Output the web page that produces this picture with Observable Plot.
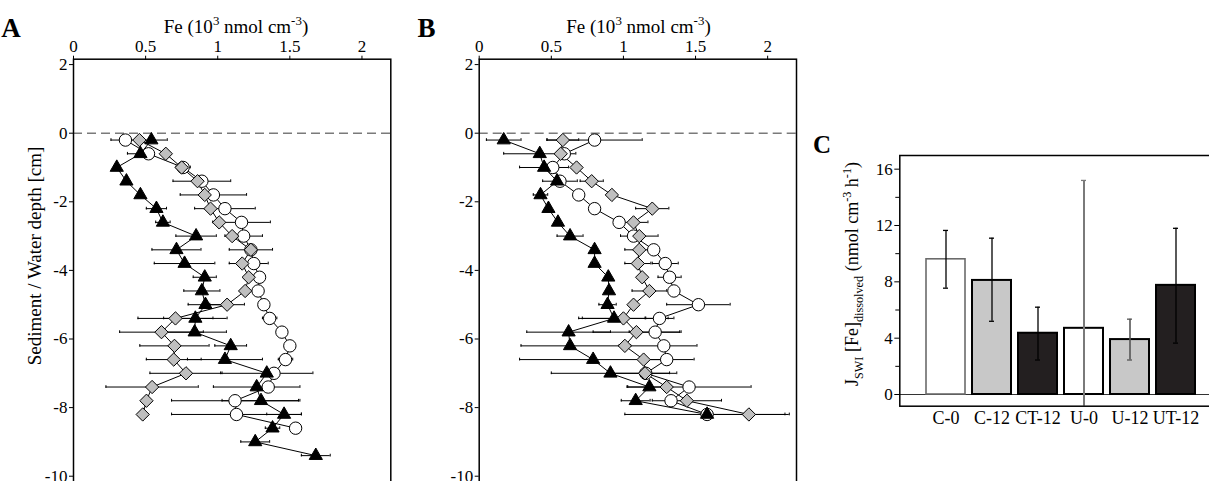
<!DOCTYPE html>
<html><head><meta charset="utf-8">
<script src="https://cdn.jsdelivr.net/npm/d3@7"></script>
<script src="https://cdn.jsdelivr.net/npm/@observablehq/plot@0.6"></script>
<style>
html,body{margin:0;padding:0;background:#fff;overflow:hidden;width:1209px;height:481px;}
#wrap{position:relative;width:1209px;height:481px;overflow:hidden;}
#wrap svg{position:absolute;top:0;overflow:visible;}
</style></head><body><div id="wrap"></div>
<script>
// ---------- data ----------
const depthsA = [-0.2,-0.6,-1.0,-1.4,-1.8,-2.2,-2.6,-3.0,-3.4,-3.8,-4.2,-4.6,-5.0,-5.4,-5.8,-6.2,-6.6,-7.0,-7.4,-7.8,-8.2,-8.6,-9.0,-9.4];
const depthsB = [-0.2,-0.6,-1.0,-1.4,-1.8,-2.2,-2.6,-3.0,-3.4,-3.8,-4.2,-4.6,-5.0,-5.4,-5.8,-6.2,-6.6,-7.0,-7.4,-7.8,-8.2];

const aCircle    = [0.36,0.52,0.76,0.89,0.97,1.05,1.165,1.18,1.23,1.25,1.29,1.28,1.32,1.36,1.445,1.50,1.47,1.39,1.35,1.12,1.13,1.54];
const aCircleErr = [0.10,0,0.05,0.20,0.23,0.21,0.20,0.13,0.15,0.10,0,0,0,0.05,0,0,0.05,0,0,0.44,0.45,0];
const aDiamond    = [0.457,0.64,0.75,0.86,0.91,0.95,1.01,1.10,1.23,1.17,1.215,1.19,1.065,0.707,0.61,0.70,0.695,0.78,0.545,0.506,0.48];
const aDiamondErr = [0,0,0,0,0,0,0,0,0,0.09,0,0,0.12,0.26,0.29,0.24,0.19,0.25,0.32,0,0];
const aTri    = [0.54,0.464,0.30,0.367,0.464,0.575,0.62,0.85,0.714,0.77,0.91,0.89,0.915,0.845,0.84,1.09,1.05,1.34,1.27,1.30,1.46,1.38,1.26,1.68];
const aTriErr = [0.11,0.09,0,0,0,0.07,0.05,0.14,0.17,0.21,0.08,0.125,0.12,0.22,0.22,0.11,0.26,0.32,0.30,0.27,0.12,0.05,0.10,0.10];

const bCircle    = [0.80,0.59,0.51,0.56,0.69,0.80,0.97,1.07,1.21,1.29,1.32,1.35,1.52,1.25,1.22,1.28,1.30,1.155,1.455,1.33,1.58];
const bCircleErr = [0.33,0,0,0.12,0,0,0,0,0,0.09,0.08,0,0.22,0.10,0.18,0.23,0.19,0,0.43,0,0.57];
const bDiamond    = [0.58,0.565,0.675,0.78,0.92,1.20,1.07,1.11,1.11,1.10,1.13,1.18,1.07,1.00,1.09,1.01,1.14,1.15,1.30,1.44,1.87];
const bDiamondErr = [0.11,0,0,0.08,0,0.115,0.10,0.13,0.10,0.09,0,0.12,0,0.31,0.30,0,0,0.22,0,0.24,0.25];
const bTri    = [0.17,0.42,0.45,0.54,0.425,0.48,0.546,0.63,0.80,0.80,0.895,0.90,0.89,0.935,0.62,0.63,0.79,0.91,1.18,1.085,1.58];
const bTriErr = [0.12,0.25,0.17,0,0.05,0,0,0.09,0,0,0,0,0.06,0.22,0.29,0.34,0.51,0.41,0.15,0.10,0];

const feTicks = [0,0.5,1,1.5,2];
const depthTicks = [2,0,-2,-4,-6,-8,-10];

const cats = ["C-0","C-12","CT-12","U-0","U-12","UT-12"];
const fluxMean = [9.6,8.1,4.35,4.7,3.9,7.75];
const fluxLow  = [7.55,5.2,2.45,-5.8,2.45,3.65];
const fluxHigh = [11.65,11.1,6.2,15.2,5.35,11.8];
const fluxTicks = [0,4,8,12,16];
const fluxMinorTicks = [2,6,10,14];

// ---------- helpers ----------
const FONT = "'Liberation Serif','Times New Roman',serif";
const wrap = document.getElementById("wrap");

function addRich(textSel, parts, base) {
  let shift = 0;
  for (const [t, kind] of parts) {
    const ts = textSel.append("tspan").text(t);
    const target = kind === "sup" ? -base * 0.4 : kind === "sub" ? base * 0.28 : 0;
    if (target - shift !== 0) ts.attr("dy", target - shift);
    shift = target;
    if (kind) ts.attr("font-size", base * 0.68);
  }
}

function rows(series, depths, vals, errs) {
  return vals.map((v, i) => ({series, depth: depths[i], v, e: errs[i], lo: v - errs[i], hi: v + errs[i]}));
}

function profile({left, width, marginLeft, depths, circle, circleErr, diamond, diamondErr, tri, triErr, letter, letterX, titleX, ylabel}) {
  const cR = rows("circle", depths, circle, circleErr);
  const dR = rows("diamond", depths, diamond, diamondErr);
  const tR = rows("tri", depths, tri, triErr);
  const all = [...cR, ...dR, ...tR];
  const errs = all.filter(d => d.e > 0);
  const plotW = 317.3;
  const svg = Plot.plot({
    width, height: 490,
    marginLeft, marginRight: width - marginLeft - plotW, marginTop: 58.7, marginBottom: 4,
    style: {fontFamily: FONT, fontSize: "17px", background: "transparent", color: "black"},
    x: {domain: [0, 2.2]},
    y: {domain: [-10.3, 2.157]},
    marks: [
      Plot.ruleY([0], {stroke: "#7a7a7a", strokeWidth: 1.5, strokeDasharray: "9,5"}),
      Plot.line(all, {x: "v", y: "depth", z: "series", stroke: "black", strokeWidth: 1}),
      Plot.ruleY(errs, {y: "depth", x1: "lo", x2: "hi", stroke: "black", strokeWidth: 1}),
      Plot.ruleX(errs, {x: "lo", y1: d => d.depth - 0.04, y2: d => d.depth + 0.04, stroke: "black", strokeWidth: 1}),
      Plot.ruleX(errs, {x: "hi", y1: d => d.depth - 0.04, y2: d => d.depth + 0.04, stroke: "black", strokeWidth: 1}),
      Plot.dot(cR, {x: "v", y: "depth", r: 6.2, fill: "white", stroke: "black", strokeWidth: 1}),
      Plot.dot(dR, {x: "v", y: "depth", symbol: "diamond2", r: 6, fill: "#bfbfbf", stroke: "black", strokeWidth: 1}),
      Plot.dot(tR, {x: "v", y: "depth", symbol: "triangle", r: 4.9, fill: "black", stroke: "black", strokeWidth: 1}),
      Plot.axisX({anchor: "top", ticks: feTicks, tickFormat: d => String(d), tickSize: 4, tickPadding: 3, label: null}),
      Plot.axisY({anchor: "left", ticks: depthTicks, tickFormat: d => String(d), tickSize: 4, tickPadding: 2, label: null}),
      Plot.frame({stroke: "black", strokeWidth: 1.5})
    ]
  });
  svg.style.left = left + "px";
  const s = d3.select(svg);
  s.append("text").attr("x", letterX).attr("y", 36.5).attr("font-family", FONT)
    .attr("font-size", 27).attr("font-weight", "bold").attr("fill", "black").text(letter);
  const t = s.append("text").attr("x", titleX).attr("y", 33).attr("text-anchor", "middle")
    .attr("font-family", FONT).attr("font-size", 19).attr("fill", "black");
  addRich(t, [["Fe (10"], ["3", "sup"], [" nmol cm"], ["-3", "sup"], [")"]], 19);
  if (ylabel) {
    s.append("text").attr("transform", "translate(41,256) rotate(-90)").attr("text-anchor", "middle")
      .attr("font-family", FONT).attr("font-size", 19).attr("fill", "black").text(ylabel);
  }
  wrap.appendChild(svg);
}

profile({left: 0, width: 400, marginLeft: 73, depths: depthsA,
  circle: aCircle, circleErr: aCircleErr, diamond: aDiamond, diamondErr: aDiamondErr, tri: aTri, triErr: aTriErr,
  letter: "A", letterX: 11, titleX: 236, ylabel: "Sediment / Water depth [cm]"});
profile({left: 420, width: 381, marginLeft: 58.7, depths: depthsB,
  circle: bCircle, circleErr: bCircleErr, diamond: bDiamond, diamondErr: bDiamondErr, tri: bTri, triErr: bTriErr,
  letter: "B", letterX: 6.5, titleX: 218.5, ylabel: null});

// ---------- panel C ----------
const barData = cats.map((c, i) => ({cat: c, val: fluxMean[i], lo: fluxLow[i], hi: fluxHigh[i]}));
const errColor = {"C-0": "black", "C-12": "black", "CT-12": "black", "U-0": "#7a7a7a", "U-12": "#555", "UT-12": "black"};
const errWidth = {"C-0": 1.3, "C-12": 1.3, "CT-12": 1.3, "U-0": 2, "U-12": 1.6, "UT-12": 1.3};
const errMarks = [];
for (const c of cats) {
  const f = d => d.cat === c;
  errMarks.push(Plot.ruleX(barData, {filter: f, x: "cat", y1: "lo", y2: "hi", stroke: errColor[c], strokeWidth: errWidth[c], clip: true}));
  errMarks.push(Plot.tickY(barData, {filter: f, x: "cat", y: "hi", insetLeft: 17, insetRight: 17, stroke: errColor[c], strokeWidth: 1.3}));
  errMarks.push(Plot.tickY(barData, {filter: d => f(d) && d.lo > 0, x: "cat", y: "lo", insetLeft: 17, insetRight: 17, stroke: errColor[c], strokeWidth: 1.3}));
}
const svgC = Plot.plot({
  width: 420, height: 481,
  marginLeft: 89.3, marginRight: 7.1, marginTop: 155, marginBottom: 75.3,
  style: {fontFamily: FONT, fontSize: "17px", background: "transparent", color: "black"},
  x: {domain: cats, paddingInner: 0.146, paddingOuter: 0.571},
  y: {domain: [-0.83, 16.97]},
  color: {domain: cats, range: ["white", "#c8c8c8", "#231f20", "white", "#c8c8c8", "#231f20"]},
  marks: [
    Plot.ruleY([0], {stroke: "#333", strokeWidth: 1}),
    Plot.barY(barData, {filter: d => d.cat === "C-0", x: "cat", y: "val", fill: "cat", stroke: "#6b6b6b", strokeWidth: 1.6}),
    Plot.barY(barData, {filter: d => d.cat !== "C-0", x: "cat", y: "val", fill: "cat", stroke: "black", strokeWidth: 2}),
    ...errMarks,
    Plot.axisY({anchor: "left", ticks: fluxTicks, tickFormat: d => String(d), tickSize: 5, tickPadding: 2, label: null}),
    Plot.axisY({anchor: "left", ticks: fluxMinorTicks, tickFormat: () => "", tickSize: 4, label: null}),
    Plot.axisX({anchor: "bottom", tickSize: 0, tickPadding: 5, label: null, fontSize: 18}),
    Plot.frame({stroke: "black", strokeWidth: 1.5})
  ]
});
svgC.style.left = "810px";
const sC = d3.select(svgC);
sC.append("text").attr("x", 12).attr("y", 153).attr("font-family", FONT)
  .attr("font-size", 25).attr("font-weight", "bold").attr("fill", "black").text("C");
const tC = sC.append("text").attr("transform", "translate(48,274) rotate(-90)").attr("text-anchor", "middle")
  .attr("font-family", FONT).attr("font-size", 18).attr("fill", "black");
addRich(tC, [["J"], ["SWI", "sub"], [" [Fe]"], ["dissolved", "sub"], [" (nmol cm"], ["-3", "sup"], [" h"], ["-1", "sup"], [")"]], 18);
wrap.appendChild(svgC);
</script></body></html>
